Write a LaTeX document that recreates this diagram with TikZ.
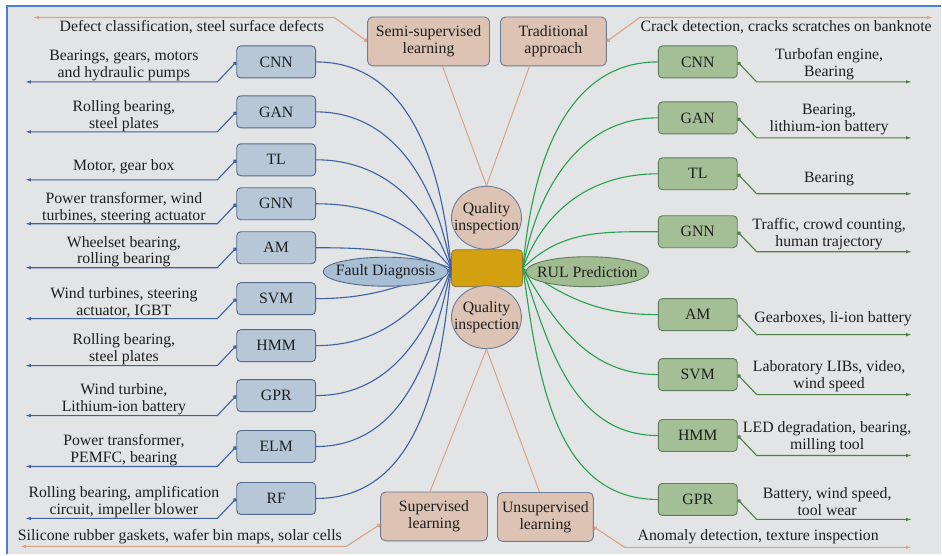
\documentclass[tikz,border=0pt]{standalone}
\usepackage{fontspec}
\setmainfont{Liberation Serif}
\usetikzlibrary{shapes.geometric,arrows.meta}

\definecolor{bgfill}{HTML}{E2E4E6}
\definecolor{framec}{HTML}{4A7FD6}
\definecolor{txtgray}{HTML}{1E1E1E}
\definecolor{fdfill}{HTML}{B8C7D8}
\definecolor{fdedge}{HTML}{52698A}
\definecolor{fdlinec}{HTML}{3C62A3}
\definecolor{fdoval}{HTML}{A8BED4}
\definecolor{rulfill}{HTML}{A4BF96}
\definecolor{ruledge}{HTML}{5E7C5E}
\definecolor{rulcurve}{HTML}{27A052}
\definecolor{rullinec}{HTML}{4E7F44}
\definecolor{ruloval}{HTML}{A2BC92}
\definecolor{tanfill}{HTML}{DCC3B3}
\definecolor{tanedge}{HTML}{6E7C96}
\definecolor{tanlinec}{HTML}{DBA383}
\definecolor{corefill}{HTML}{D3A00F}
\definecolor{coreedge}{HTML}{8E7D3C}

\begin{document}
\begin{tikzpicture}[x=1pt,y=1pt,
    font=\fontsize{15.8}{17}\selectfont, text=txtgray,
    fdbox/.style={draw=fdedge,fill=fdfill,rounded corners=4pt,minimum width=79pt,minimum height=32pt,line width=0.9pt},
    rulbox/.style={draw=ruledge,fill=rulfill,rounded corners=4pt,minimum width=79pt,minimum height=32pt,line width=0.9pt},
    tanbox/.style={draw=tanedge,fill=tanfill,rounded corners=5pt,minimum height=49pt,align=center,line width=0.9pt},
    oval/.style={ellipse,inner sep=-20pt,line width=0.9pt,align=center},
    lbl/.style={align=center,inner sep=0pt},
    fdcurve/.style={draw=fdlinec,line width=1.1pt},
    rulcurvest/.style={draw=rulcurve,line width=1.1pt},
    fdarrow/.style={draw=fdlinec,line width=1.1pt,{Circle[length=4pt]}-{Latex[length=6pt,width=3.5pt]}},
    rularrow/.style={draw=rullinec,line width=1.1pt,{Circle[length=4pt]}-{Latex[length=6pt,width=3.5pt]}},
    tanarrow/.style={draw=tanlinec,line width=1.1pt,{Circle[length=4pt]}-{Latex[length=6pt,width=3.5pt]}},
    tanlink/.style={draw=tanlinec,line width=1pt}]

    % page and frame
    \fill[white] (0,0) rectangle (942,555);
    \fill[bgfill] (7,0) rectangle (942,549);
    \draw[framec,line width=2pt] (7,0) -- (7,549) -- (942,549);
    \useasboundingbox (0,0) rectangle (942,555);

    % fault diagnosis methods
    \node[fdbox] (fcnn) at (276.5,493){CNN};
    \node[fdbox] (fgan) at (276.5,443){GAN};
    \node[fdbox] (ftl) at (276.5,395){TL};
    \node[fdbox] (fgnn) at (276.5,351){GNN};
    \node[fdbox] (fam) at (276.5,307){AM};
    \node[fdbox] (fsvm) at (276.5,256){SVM};
    \node[fdbox] (fhmm) at (276.5,209){HMM};
    \node[fdbox] (fgpr) at (276.5,159){GPR};
    \node[fdbox] (felm) at (276.5,108){ELM};
    \node[fdbox] (frf) at (276.5,56){RF};

    % RUL prediction methods
    \node[rulbox] (rcnn) at (698.5,493){CNN};
    \node[rulbox] (rgan) at (698.5,437){GAN};
    \node[rulbox] (rtl) at (698.5,381){TL};
    \node[rulbox] (rgnn) at (698.5,323){GNN};
    \node[rulbox] (ram) at (698.5,240){AM};
    \node[rulbox] (rsvm) at (698.5,180){SVM};
    \node[rulbox] (rhmm) at (698.5,119){HMM};
    \node[rulbox] (rgpr) at (698.5,55){GPR};

    % centre
    \node[draw=coreedge,fill=corefill,rounded corners=4pt,minimum width=71pt,minimum height=37pt,line width=0.9pt] (core) at (487.5,286.5){};
    \node[oval,draw=tanedge,fill=tanfill,minimum width=70pt,minimum height=63pt] (qtop) at (487,337){Quality\\inspection};
    \node[oval,draw=tanedge,fill=tanfill,minimum width=70pt,minimum height=63pt] (qbot) at (487,237.5){Quality\\inspection};

    % learning settings
    \node[tanbox,minimum width=122pt] (semi) at (429,513.5){Semi-supervised\\learning};
    \node[tanbox,minimum width=106pt] (trad) at (554,513.5){Traditional\\approach};
    \node[tanbox,minimum width=107pt] (sup) at (434.5,38){Supervised\\learning};
    \node[tanbox,minimum width=96pt] (unsup) at (546,37.5){Unsupervised\\learning};

    \draw[fdcurve] (fcnn.east) to[out=0,in=95] (core.west);
    \draw[fdcurve] (fgan.east) to[out=0,in=100] (core.west);
    \draw[fdcurve] (ftl.east) to[out=0,in=110] (core.west);
    \draw[fdcurve] (fgnn.east) to[out=0,in=130] (core.west);
    \draw[fdcurve] (fam.east) to[out=0,in=160] (core.west);
    \draw[fdcurve] (fsvm.east) to[out=0,in=200] (core.west);
    \draw[fdcurve] (fhmm.east) to[out=0,in=230] (core.west);
    \draw[fdcurve] (fgpr.east) to[out=0,in=250] (core.west);
    \draw[fdcurve] (felm.east) to[out=0,in=258] (core.west);
    \draw[fdcurve] (frf.east) to[out=0,in=265] (core.west);

    \draw[rulcurvest] (core.east) to[out=85,in=180] (rcnn.west);
    \draw[rulcurvest] (core.east) to[out=80,in=180] (rgan.west);
    \draw[rulcurvest] (core.east) to[out=70,in=180] (rtl.west);
    \draw[rulcurvest] (core.east) to[out=45,in=180] (rgnn.west);
    \draw[rulcurvest] (core.east) to[out=-35,in=180] (ram.west);
    \draw[rulcurvest] (core.east) to[out=-60,in=180] (rsvm.west);
    \draw[rulcurvest] (core.east) to[out=-72,in=180] (rhmm.west);
    \draw[rulcurvest] (core.east) to[out=-82,in=180] (rgpr.west);

    \draw[tanlink] ([xshift=14pt]semi.south) -- (qtop.north);
    \draw[tanlink] ([xshift=-24pt]trad.south) -- (qtop.north);
    \draw[tanlink] (qbot.south) -- ([xshift=-4pt]sup.north);
    \draw[tanlink] (qbot.south) -- ([xshift=-6pt]unsup.north);

    \node[oval,draw=fdedge,fill=fdoval,minimum width=125pt,minimum height=29pt] (fdiag) at (386,283){Fault Diagnosis};
    \node[oval,draw=ruledge,fill=ruloval,minimum width=123pt,minimum height=30pt] (rulp) at (588,283){RUL Prediction};

    % applications, left
    \node[lbl] (fcnnT) at (124,489){Bearings, gears, motors\\and hydraulic pumps};
    \node[lbl] (fganT) at (124,439){Rolling bearing,\\steel plates};
    \node[lbl] (ftlT) at (124,388){Motor, gear box};
    \node[lbl] (fgnnT) at (124,347){Power transformer, wind\\turbines, steering actuator};
    \node[lbl] (famT) at (124,303){Wheelset bearing,\\rolling bearing};
    \node[lbl] (fsvmT) at (124,252){Wind turbines, steering\\actuator, IGBT};
    \node[lbl] (fhmmT) at (124,205){Rolling bearing,\\steel plates};
    \node[lbl] (fgprT) at (124,155){Wind turbine,\\Lithium-ion battery};
    \node[lbl] (felmT) at (124,104){Power transformer,\\PEMFC, bearing};
    \node[lbl] (frfT) at (124,52){Rolling bearing, amplification\\circuit, impeller blower};

    \coordinate (fcnnE) at (25,473);
    \coordinate (fganE) at (25,423);
    \coordinate (ftlE) at (25,375);
    \coordinate (fgnnE) at (25,331);
    \coordinate (famE) at (25,287);
    \coordinate (fsvmE) at (25,236);
    \coordinate (fhmmE) at (25,189);
    \coordinate (fgprE) at (25,139);
    \coordinate (felmE) at (25,88);
    \coordinate (frfE) at (25,36);

    \draw[fdarrow] (fcnn.west) -- ++(-19,-20) -- (fcnnE);
    \draw[fdarrow] (fgan.west) -- ++(-19,-20) -- (fganE);
    \draw[fdarrow] (ftl.west) -- ++(-19,-20) -- (ftlE);
    \draw[fdarrow] (fgnn.west) -- ++(-19,-20) -- (fgnnE);
    \draw[fdarrow] (fam.west) -- ++(-19,-20) -- (famE);
    \draw[fdarrow] (fsvm.west) -- ++(-19,-20) -- (fsvmE);
    \draw[fdarrow] (fhmm.west) -- ++(-19,-20) -- (fhmmE);
    \draw[fdarrow] (fgpr.west) -- ++(-19,-20) -- (fgprE);
    \draw[fdarrow] (felm.west) -- ++(-19,-20) -- (felmE);
    \draw[fdarrow] (frf.west) -- ++(-19,-20) -- (frfE);

    % applications, right
    \node[lbl] (rcnnT) at (830,491){Turbofan engine,\\Bearing};
    \node[lbl] (rganT) at (830,435){Bearing,\\lithium-ion battery};
    \node[lbl] (rtlT) at (830,376){Bearing};
    \node[lbl] (rgnnT) at (830,321){Traffic, crowd counting,\\human trajectory};
    \node[lbl] (ramT) at (834,236){Gearboxes, li-ion battery};
    \node[lbl] (rsvmT) at (830,178){Laboratory LIBs, video,\\wind speed};
    \node[lbl] (rhmmT) at (828,117){LED degradation, bearing,\\milling tool};
    \node[lbl] (rgprT) at (828,53){Battery, wind speed,\\tool wear};

    \coordinate (rcnnE) at (913,473);
    \coordinate (rganE) at (913,417);
    \coordinate (rtlE) at (913,361);
    \coordinate (rgnnE) at (913,303);
    \coordinate (ramE) at (913,220);
    \coordinate (rsvmE) at (913,160);
    \coordinate (rhmmE) at (913,99);
    \coordinate (rgprE) at (913,35);

    \draw[rularrow] (rcnn.east) -- ++(19,-20) -- (rcnnE);
    \draw[rularrow] (rgan.east) -- ++(19,-20) -- (rganE);
    \draw[rularrow] (rtl.east) -- ++(19,-20) -- (rtlE);
    \draw[rularrow] (rgnn.east) -- ++(19,-20) -- (rgnnE);
    \draw[rularrow] (ram.east) -- ++(19,-20) -- (ramE);
    \draw[rularrow] (rsvm.east) -- ++(19,-20) -- (rsvmE);
    \draw[rularrow] (rhmm.east) -- ++(19,-20) -- (rhmmE);
    \draw[rularrow] (rgpr.east) -- ++(19,-20) -- (rgprE);

    % applications of the learning settings
    \node[lbl] (defT) at (192,528){Defect classification, steel surface defects};
    \node[lbl] (crackT) at (787,528){Crack detection, cracks scratches on banknote};
    \node[lbl] (silT) at (180,18){Silicone rubber gaskets, wafer bin maps, solar cells};
    \node[lbl] (anoT) at (759,18){Anomaly detection, texture inspection};

    \coordinate (defE) at (33,537.5);
    \coordinate (crackE) at (934,537.5);
    \coordinate (silE) at (20,8);
    \coordinate (anoE) at (913,7);

    \draw[tanarrow] (semi.west) -- ++(-33,24) -- (defE);
    \draw[tanarrow] (trad.east) -- ++(33,24) -- (crackE);
    \draw[tanarrow] ([yshift=-8pt]sup.west) -- ++(-34,-22) -- (silE);
    \draw[tanarrow] ([yshift=-10pt]unsup.east) -- ++(31,-20.5) -- (anoE);
\end{tikzpicture}
\end{document}
